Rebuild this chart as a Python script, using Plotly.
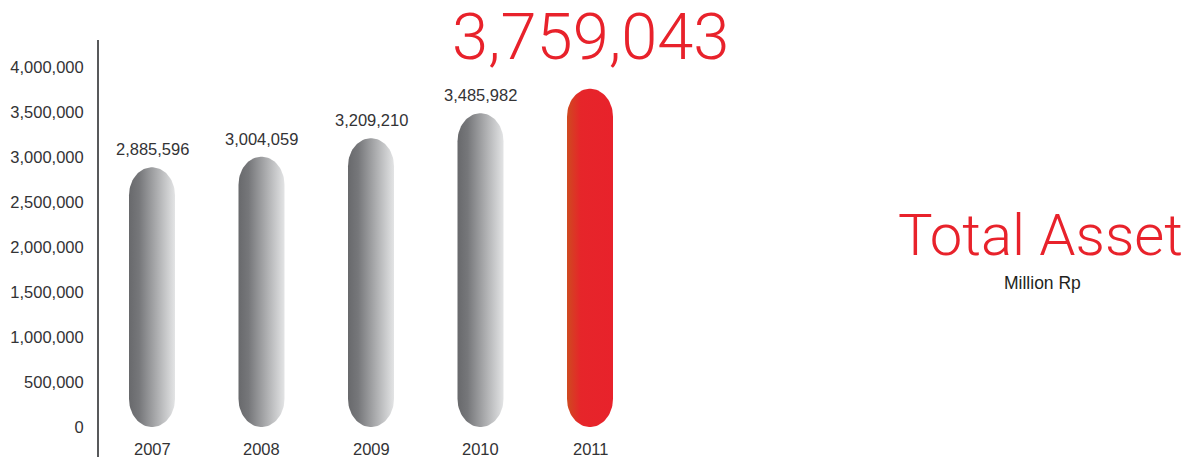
import numpy as np
import plotly.graph_objects as go

# Total assets, million Rp
years = ["2007", "2008", "2009", "2010", "2011"]
assets = [2885596, 3004059, 3209210, 3485982, 3759043]
y_ticks = [0, 500000, 1000000, 1500000, 2000000, 2500000, 3000000, 3500000, 4000000]

# canvas and plot-area geometry (pixels)
W, H = 1197, 457
M_L, M_R, M_T, M_B = 99, 497, 40, 0
PLOT_W = W - M_L - M_R
PLOT_H = H - M_T - M_B
X_RANGE = [-0.484, -0.484 + PLOT_W / 109.5]
Y_RANGE = [-333333, 4300000]
px_per_x = PLOT_W / (X_RANGE[1] - X_RANGE[0])
px_per_y = PLOT_H / (Y_RANGE[1] - Y_RANGE[0])

BAR_HALF_PX = 23
CAP_PX = 28
hw = BAR_HALF_PX / px_per_x
ry = CAP_PX / px_per_y

GRAY = [[0, "#68696c"], [0.22, "#76777a"], [1, "#e3e4e5"]]
RED = [[0, "#cf4a20"], [0.3, "#e6252a"], [1, "#e8222b"]]
RED_TXT = "#e8222b"
TXT = "#333335"
SANS = "Liberation Sans, Arial, sans-serif"
LIGHT = "Roboto, Liberation Sans, sans-serif"


def pill(xc, value):
    t_top = np.linspace(0, np.pi, 40)
    t_bot = np.linspace(np.pi, 2 * np.pi, 40)
    xs = np.concatenate([xc + hw * np.cos(t_top), xc + hw * np.cos(t_bot)])
    ys = np.concatenate([value - ry + ry * np.sin(t_top), ry + ry * np.sin(t_bot)])
    return np.append(xs, xs[0]), np.append(ys, ys[0])


fig = go.Figure()
for i, (yr, v) in enumerate(zip(years, assets)):
    xs, ys = pill(i, v)
    fig.add_trace(go.Scatter(
        x=xs, y=ys, mode="lines", fill="toself",
        line=dict(width=0),
        fillgradient=dict(type="horizontal",
                          colorscale=RED if i == len(years) - 1 else GRAY),
        hoverinfo="skip", showlegend=False,
    ))

# category labels along the bottom edge
for i, yr in enumerate(years):
    fig.add_annotation(x=i, xref="x", yref="paper", y=0, text=yr,
                       showarrow=False, yanchor="middle", yshift=8,
                       font=dict(family=SANS, size=16.5, color=TXT))

# value labels
for i, v in enumerate(assets[:-1]):
    fig.add_annotation(x=i, y=v, text=f"{v:,}", showarrow=False,
                       yanchor="bottom", yshift=7,
                       font=dict(family=SANS, size=16.5, color=TXT))
fig.add_annotation(x=len(assets) - 1, y=assets[-1], text=f"{assets[-1]:,}",
                   showarrow=False, yanchor="bottom", yshift=12,
                   font=dict(family=LIGHT, size=65, color=RED_TXT, weight=300))

# title block on the right
def px_to_paper(px, py):
    return (px - M_L) / PLOT_W, (H - M_B - py) / PLOT_H

tx, ty = px_to_paper(1040, 235)
fig.add_annotation(xref="paper", yref="paper", x=tx, y=ty, text="Total Asset",
                   showarrow=False, xanchor="center", yanchor="middle",
                   font=dict(family=LIGHT, size=58, color=RED_TXT, weight=300))
sx, sy = px_to_paper(1042, 283)
fig.add_annotation(xref="paper", yref="paper", x=sx, y=sy, text="Million Rp",
                   showarrow=False, xanchor="center", yanchor="middle",
                   font=dict(family=SANS, size=17.5, color="#231f20"))

fig.update_layout(
    width=W, height=H,
    margin=dict(l=M_L, r=M_R, t=M_T, b=M_B, pad=0),
    paper_bgcolor="white", plot_bgcolor="white",
    xaxis=dict(range=X_RANGE, showticklabels=False,
               showgrid=False, zeroline=False, showline=False, ticks="",
               fixedrange=True),
    yaxis=dict(range=Y_RANGE, tickvals=y_ticks, tickformat=",",
               showgrid=False, zeroline=False, showline=True,
               linecolor="#58595b", linewidth=2, ticks="",
               ticklabelstandoff=10,
               tickfont=dict(family=SANS, size=16.5, color=TXT), fixedrange=True),
)

fig.write_html("out.html")
